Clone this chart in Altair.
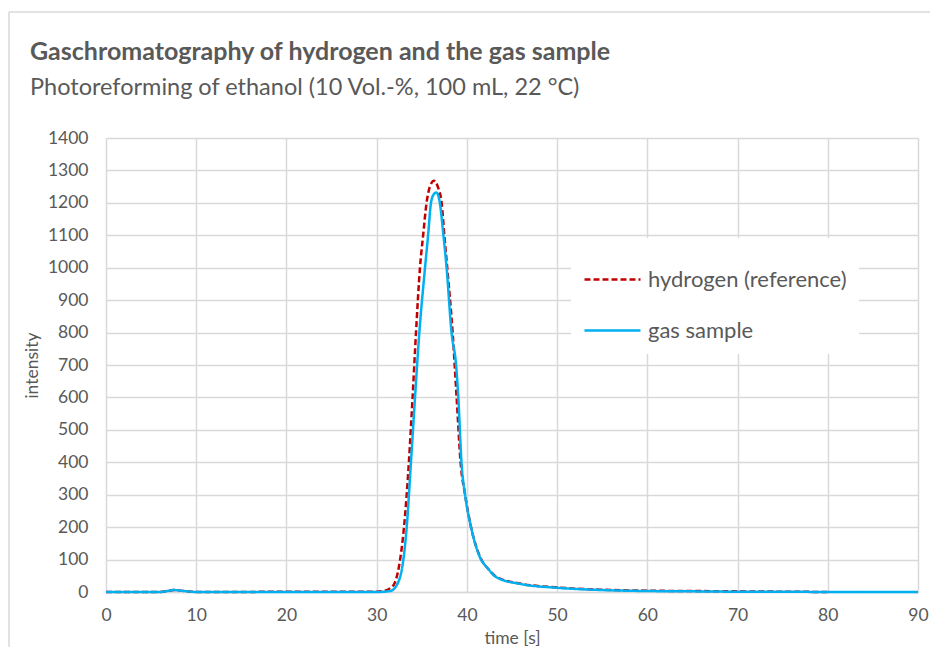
import altair as alt
import pandas as pd

# ---- data ----
time_hydrogen = [0, 6, 7, 7.5, 8, 9, 10, 26, 30, 31, 31.5, 32, 32.6, 33.03, 33.57, 33.98,
                 34.36, 34.8, 35.15, 35.53, 35.9, 36.35, 36.8, 37.2, 37.5, 37.82, 38.42,
                 38.86, 39.3, 39.8, 40.46, 41.6, 42.4, 43.3, 45.9, 50, 55, 60, 65, 70, 75, 80]
intensity_hydrogen = [0, 0, 4, 6, 5, 2, 0, 1, 1, 5, 12, 28, 100, 200, 400, 600,
                      800, 1000, 1100, 1200, 1250, 1268, 1248, 1200, 1100, 1000, 800,
                      600, 400, 300, 200, 100, 70, 46, 26, 14, 7, 4, 3, 2, 1, 0]

time_gas = [0, 6, 7, 7.5, 8, 9, 10, 30, 31.5, 32.2, 32.96, 33.33, 33.8, 34.25, 34.73,
            35.36, 35.7, 36.02, 36.3, 36.58, 36.8, 37.0, 37.4, 37.75, 38.3, 38.8, 39.05,
            39.4, 39.8, 40.46, 41.27, 42.4, 43.3, 45.9, 50, 55, 60, 65, 70, 75, 80, 90]
intensity_gas = [0, 0, 4, 6, 5, 2, 0, 0, 3, 20, 100, 200, 400, 600, 800,
                 1000, 1100, 1200, 1225, 1232, 1225, 1200, 1100, 1000, 800, 700, 600,
                 400, 300, 200, 119, 70, 45, 25, 13, 6, 3, 2, 1, 1, 0, 0]

series_names = ["hydrogen (reference)", "gas sample"]
series_colors = ["#C00000", "#00B0F0"]
x_ticks = list(range(0, 91, 10))
y_ticks = list(range(0, 1401, 100))

df = pd.concat([
    pd.DataFrame({"time": time_hydrogen, "intensity": intensity_hydrogen, "series": series_names[0]}),
    pd.DataFrame({"time": time_gas, "intensity": intensity_gas, "series": series_names[1]}),
], ignore_index=True)

FONT = "Lato"
GRAY = "#595959"
GRID = "#D9D9D9"

lines = alt.Chart(df).mark_line(strokeWidth=2.5, interpolate="monotone").encode(
    x=alt.X("time:Q", title="time [s]",
            scale=alt.Scale(domain=[0, 90], nice=False),
            axis=alt.Axis(values=x_ticks, grid=True, ticks=False, domain=True,
                          domainColor=GRID, domainWidth=1.5, format="d",
                          labelFlush=False, labelPadding=14, titlePadding=6)),
    y=alt.Y("intensity:Q", title="intensity",
            scale=alt.Scale(domain=[0, 1400], nice=False),
            axis=alt.Axis(values=y_ticks, grid=True, ticks=False, domain=False,
                          format="d", labelFlush=False, labelPadding=18, titlePadding=6)),
    color=alt.Color("series:N", title=None,
                    scale=alt.Scale(domain=series_names, range=series_colors),
                    legend=alt.Legend(orient="none", legendX=465, legendY=100,
                                      symbolType="stroke", symbolSize=3136,
                                      symbolStrokeWidth=2.5, labelOffset=6,
                                      rowPadding=10, padding=12, labelLimit=400,
                                      fillColor="white", labelFontSize=22,
                                      labelColor=GRAY, labelFont=FONT)),
    strokeDash=alt.StrokeDash("series:N", title=None,
                              scale=alt.Scale(domain=series_names, range=[[6, 3], [1, 0]]),
                              legend=None),
)

border_df = pd.DataFrame({"k": [0]})
left_border = alt.Chart(border_df).mark_rule(color=GRID, strokeWidth=1.5).encode(
    x=alt.value(-97), y=alt.value(-126), y2=alt.value(700))
top_border = alt.Chart(border_df).mark_rule(color=GRID, strokeWidth=1.5).encode(
    x=alt.value(-97), x2=alt.value(900), y=alt.value(-126))

chart = alt.layer(left_border, top_border, lines).properties(
    width=812, height=454,
    autosize=alt.AutoSizeParams(type="none"),
    padding={"left": 98, "top": 130, "right": 12, "bottom": 55},
    title=alt.TitleParams(
        text="Gaschromatography of hydrogen and the gas sample",
        subtitle="Photoreforming of ethanol (10 Vol.-%, 100 mL, 22 °C)",
        anchor="start", frame="group", dx=-76, offset=-88,
        font=FONT, fontSize=25, fontWeight="bold", color=GRAY,
        subtitleFont=FONT, subtitleFontSize=23.5, subtitleColor=GRAY,
        subtitlePadding=11),
).configure_view(stroke=None).configure_axis(
    gridColor=GRID, gridWidth=1.5,
    labelFont=FONT, labelFontSize=17.5, labelColor=GRAY,
    titleFont=FONT, titleFontSize=17.5, titleColor=GRAY, titleFontWeight="normal",
)

chart.save("out.html", embed_options={"renderer": "svg", "actions": False})
